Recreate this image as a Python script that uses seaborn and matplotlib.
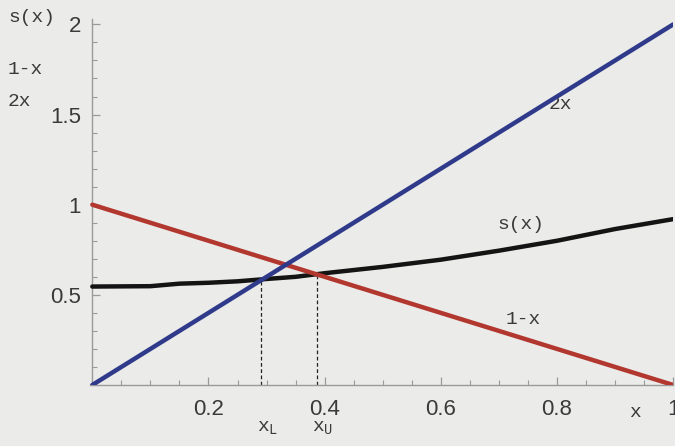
import numpy as np
import pandas as pd
import matplotlib
matplotlib.use("Agg")
import matplotlib.pyplot as plt
from matplotlib.ticker import MultipleLocator, FixedLocator
import seaborn as sns

# ---- data ----
x_line = [0.0, 0.5, 1.0]
two_x = [0.0, 1.0, 2.0]
one_minus_x = [1.0, 0.5, 0.0]

x_s = [0.0, 0.1, 0.15, 0.2, 0.25, 0.3, 0.35, 0.4, 0.5, 0.6, 0.65, 0.7, 0.8, 0.9, 1.0]
s_vals = [0.546, 0.548, 0.562, 0.567, 0.575, 0.588, 0.600, 0.620, 0.655, 0.695,
          0.720, 0.745, 0.800, 0.865, 0.920]

x_lower, x_upper = 0.291, 0.387
s_lower, s_upper = 0.584, 0.612

x_ticks = [0.2, 0.4, 0.6, 0.8, 1.0]
x_ticklabels = ["0.2", "0.4", "0.6", "0.8", "1"]
y_ticks = [0.5, 1.0, 1.5, 2.0]
y_ticklabels = ["0.5", "1", "1.5", "2"]

# ---- style ----
sns.set_style("ticks")
bg = "#ebebea"
axis_col = "#9a9a9a"
text_col = "#3a3a3a"
mono = ["Liberation Mono", "DejaVu Sans Mono"]
sans = ["Liberation Sans", "DejaVu Sans"]
plt.rcParams["mathtext.fontset"] = "custom"
plt.rcParams["mathtext.rm"] = "Liberation Mono"

fig = plt.figure(figsize=(6.75, 4.46), dpi=100, facecolor=bg)
ax = fig.add_axes([0.1333, 0.1368, 0.864, 0.8206])
ax.set_facecolor(bg)

lines_df = pd.DataFrame({"x": x_line, "2x": two_x, "1-x": one_minus_x})
s_df = pd.DataFrame({"x": x_s, "s": s_vals})

# dashed markers for the two crossing points
ax.plot([x_lower, x_lower], [0, s_lower], ls=(0, (3, 2)), color="#222222", lw=0.9, zorder=1)
ax.plot([x_upper, x_upper], [0, s_upper], ls=(0, (3, 2)), color="#222222", lw=0.9, zorder=1)

sns.lineplot(data=s_df, x="x", y="s", color="#141414", lw=3.2, ax=ax, zorder=3)
sns.lineplot(data=lines_df, x="x", y="1-x", color="#b2372f", lw=3.2, ax=ax, zorder=4)
sns.lineplot(data=lines_df, x="x", y="2x", color="#2f3a8a", lw=3.2, ax=ax, zorder=5)

ax.set_xlim(-0.004, 1.0)
ax.set_ylim(0, 2.03)
ax.spines["top"].set_visible(False)
ax.spines["right"].set_visible(False)
for sp in ("left", "bottom"):
    ax.spines[sp].set_color(axis_col)
    ax.spines[sp].set_linewidth(1.0)
ax.spines["left"].set_position(("data", 0))
ax.spines["bottom"].set_position(("data", 0))

ax.xaxis.set_major_locator(FixedLocator(x_ticks))
ax.set_xticklabels(x_ticklabels)
ax.xaxis.set_minor_locator(MultipleLocator(0.05))
ax.yaxis.set_major_locator(FixedLocator(y_ticks))
ax.set_yticklabels(y_ticklabels)
ax.yaxis.set_minor_locator(MultipleLocator(0.1))
ax.tick_params(which="major", direction="in", length=6, width=0.9, color=axis_col,
               labelsize=16, labelcolor=text_col)
ax.tick_params(which="minor", direction="in", length=3.5, width=0.8, color=axis_col)
ax.tick_params(axis="x", which="major", pad=10)
ax.tick_params(axis="y", which="major", pad=8)
for lab in ax.get_xticklabels() + ax.get_yticklabels():
    lab.set_family(sans)
ax.set_xlabel("")
ax.set_ylabel("")

# curve labels
ax.text(0.805, 1.555, "2x", family=mono, fontsize=14, color=text_col, ha="center", va="center")
ax.text(0.738, 0.89, "s(x)", family=mono, fontsize=14, color=text_col, ha="center", va="center")
ax.text(0.742, 0.365, "1-x", family=mono, fontsize=14, color=text_col, ha="center", va="center")
ax.text(0.935, -0.15, "x", family=mono, fontsize=14, color=text_col, ha="center", va="center",
        clip_on=False)
ax.text(x_lower + 0.01, -0.24, r"x$_\mathregular{L}$", family=mono, fontsize=14, color=text_col,
        ha="center", va="center", clip_on=False)
ax.text(x_upper + 0.01, -0.24, r"x$_\mathregular{U}$", family=mono, fontsize=14, color=text_col,
        ha="center", va="center", clip_on=False)

# stacked axis label at top left
for label, ypix in (("s(x)", 18), ("1-x", 70), ("2x", 102)):
    fig.text(8 / 675, 1 - ypix / 446, label, family=mono, fontsize=14, color=text_col,
             ha="left", va="center")

fig.savefig("out.png", dpi=100, facecolor=bg)
